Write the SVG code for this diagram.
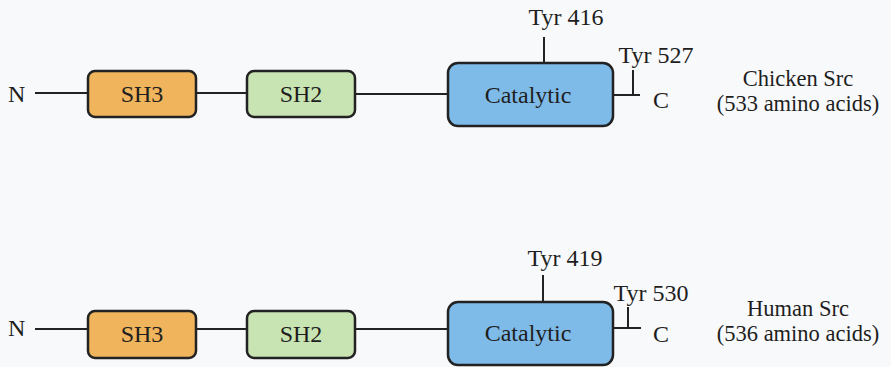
<svg xmlns="http://www.w3.org/2000/svg" width="891" height="367" viewBox="0 0 891 367">
<style>
text{font-family:"Liberation Serif","Times New Roman",serif;font-size:24px;fill:#1e1e1e}
.m{text-anchor:middle}
.lb{font-size:22.5px}
.box{stroke:#222;stroke-width:2.5}
.sh3{fill:#efb45c}
.sh2{fill:#c8e4b2}
.cat{fill:#7fbbe8}
.ln{stroke:#222;stroke-width:2;fill:none}
</style>
<rect width="891" height="367" fill="#f8f9fb"/>
<g id="connectors">
<path class="ln" d="M35 93H88M196 93H247M355 94H448M613 95H640M633 95V70M544 63V37"/>
<path class="ln" d="M35 329H88M196 329H247M355 329H448M613 328H641M628 328V307M543 302V275"/>
</g>
<g id="chicken-N"><text x="8" y="102">N</text></g>
<g id="chicken-SH3"><rect class="box sh3" x="88" y="71" width="108" height="46" rx="7"/><text class="m" x="142" y="102">SH3</text></g>
<g id="chicken-SH2"><rect class="box sh2" x="247" y="71" width="108" height="46" rx="7"/><text class="m" x="301" y="102">SH2</text></g>
<g id="chicken-Catalytic"><rect class="box cat" x="448" y="63" width="165" height="63" rx="10"/><text class="m" x="528" y="103">Catalytic</text></g>
<g id="chicken-Tyr416"><text class="m" x="566" y="25">Tyr 416</text></g>
<g id="chicken-Tyr527"><text class="m" x="656" y="63">Tyr 527</text></g>
<g id="chicken-C"><text x="653" y="108">C</text></g>
<g id="chicken-label"><text class="m lb" x="798" y="86">Chicken Src</text><text class="m lb" x="798" y="111">(533 amino acids)</text></g>
<g id="human-N"><text x="8" y="336">N</text></g>
<g id="human-SH3"><rect class="box sh3" x="88" y="311" width="108" height="47" rx="7"/><text class="m" x="142" y="342">SH3</text></g>
<g id="human-SH2"><rect class="box sh2" x="247" y="311" width="108" height="47" rx="7"/><text class="m" x="301" y="342">SH2</text></g>
<g id="human-Catalytic"><rect class="box cat" x="448" y="302" width="165" height="63" rx="10"/><text class="m" x="528" y="341">Catalytic</text></g>
<g id="human-Tyr419"><text class="m" x="565" y="266">Tyr 419</text></g>
<g id="human-Tyr530"><text class="m" x="651" y="301">Tyr 530</text></g>
<g id="human-C"><text x="653" y="342">C</text></g>
<g id="human-label"><text class="m lb" x="798" y="316">Human Src</text><text class="m lb" x="798" y="341">(536 amino acids)</text></g>
</svg>
